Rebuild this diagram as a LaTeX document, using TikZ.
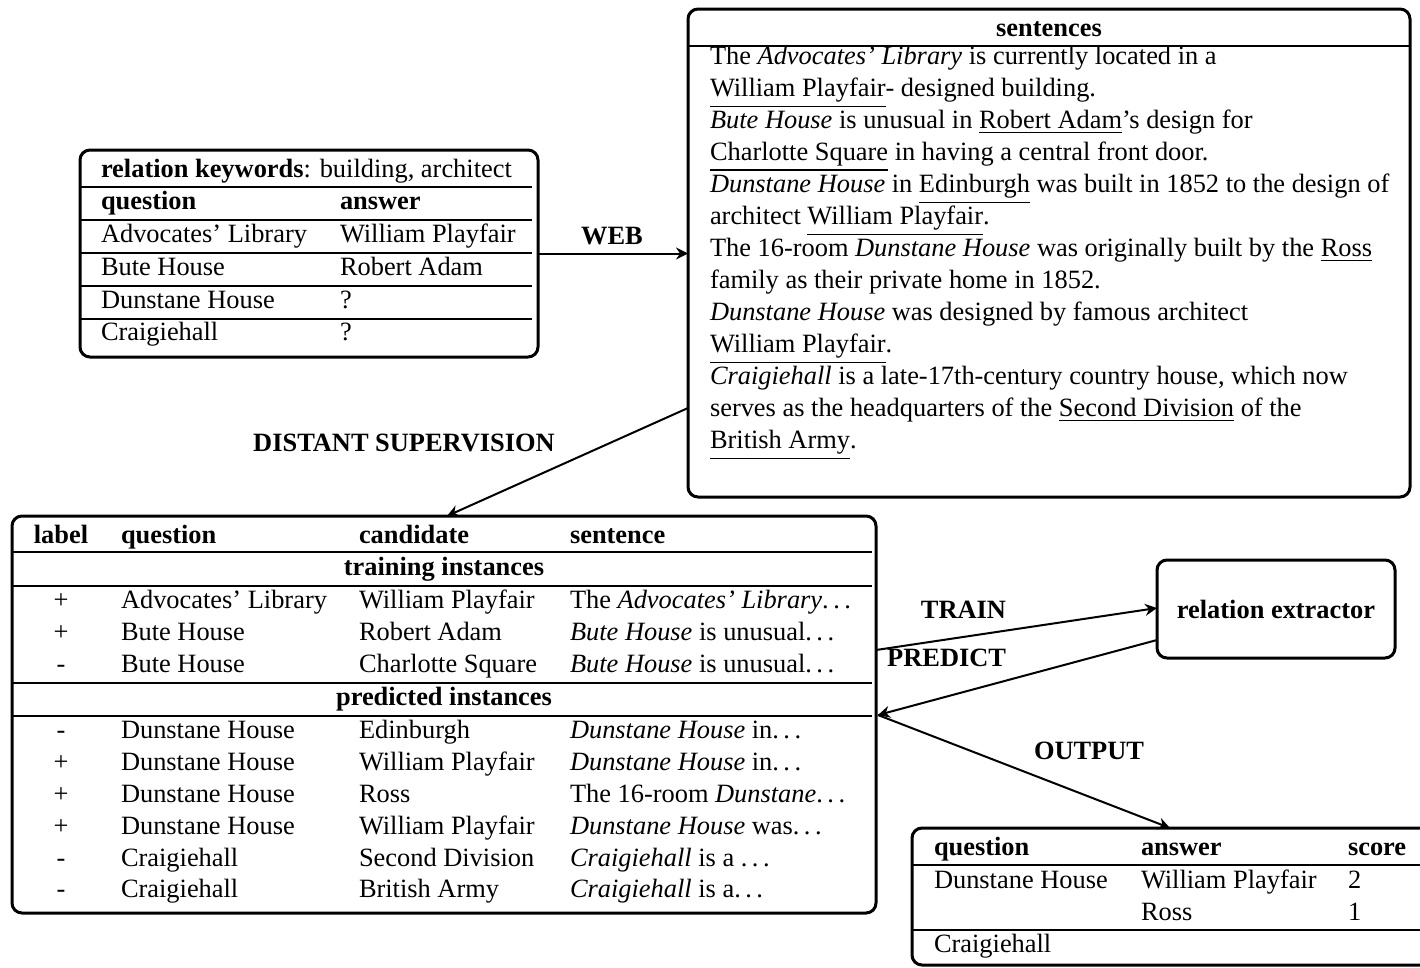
\documentclass[tikz,border=0pt]{standalone}
\usepackage{fontspec}
\setmainfont{Liberation Serif}
\usetikzlibrary{arrows.meta,calc}
\newsavebox\ulbox
\newcommand\myul[1]{\sbox\ulbox{#1}\rlap{\raisebox{\dimexpr-\dp\ulbox-5pt\relax}{\rule{\wd\ulbox}{1.2pt}}}\usebox\ulbox}
\newcommand\mydots{.\kern0.17em.\kern0.17em.}
\begin{document}
\begin{tikzpicture}[x=1pt,y=-1pt,
  every node/.style={inner sep=0pt,outer sep=0pt,font=\fontsize{26.4}{32}\selectfont},
  txt/.style={anchor=base west},
  ctxt/.style={anchor=base},
  hd/.style={anchor=base west,font=\fontsize{26.4}{32}\selectfont\bfseries},
  chd/.style={anchor=base,font=\fontsize{26.4}{32}\selectfont\bfseries},
  lbl/.style={anchor=base,font=\fontsize{26.4}{32}\selectfont\bfseries},
  box/.style={draw,line width=3pt,rounded corners=10pt,anchor=north west},
  rl/.style={line width=1.2pt},
  arr/.style={line width=2pt,-{Stealth[length=12pt,width=12pt,inset=4pt]}}]
\useasboundingbox (0,0) rectangle (1420,967);

% boxes
\node[box,minimum width=458pt,minimum height=207pt] (kw) at (80,150) {};
\node[box,minimum width=722pt,minimum height=488pt] (sent) at (688,9) {};
\node[box,minimum width=864pt,minimum height=397pt] (mid) at (12,516) {};
\node[box,minimum width=238pt,minimum height=98pt] (re) at (1157,560) {};
\node[box,minimum width=540pt,minimum height=137pt] (out) at (912,828) {};

% keyword table
\node[txt] (kwh) at (101,177) {\textbf{relation keywords}: building, architect};
\draw[rl] (80,187) -- (532,187);
\node[hd] (kwq) at (101,209) {question};
\node[hd] (kwa) at (340,209) {answer};
\draw[rl] (80,220) -- (532,220);
\node[txt] (kq1) at (101,242) {Advocates' Library};
\node[txt] (ka1) at (340,242) {William Playfair};
\draw[rl] (80,253) -- (532,253);
\node[txt] (kq2) at (101,275) {Bute House};
\node[txt] (ka2) at (340,275) {Robert Adam};
\draw[rl] (80,286) -- (532,286);
\node[txt] (kq3) at (101,308) {Dunstane House};
\node[txt] (ka3) at (340,308) {?};
\draw[rl] (80,319) -- (532,319);
\node[txt] (kq4) at (101,340) {Craigiehall};
\node[txt] (ka4) at (340,340) {?};

% sentences
\node[chd] (sth) at (1049,36) {sentences};
\draw[rl] (688,46) -- (1410,46);
\node[txt] (s1) at (710,64) {The \textit{Advocates' Library} is currently located in a};
\node[txt] (s2) at (710,96) {\myul{William Playfair}- designed building.};
\node[txt] (s3) at (710,128) {\textit{Bute House} is unusual in \myul{Robert Adam}'s design for};
\node[txt] (s4) at (710,160) {\myul{Charlotte Square} in having a central front door.};
\node[txt] (s5) at (710,192) {\textit{Dunstane House} in \myul{Edinburgh} was built in 1852 to the design of};
\node[txt] (s6) at (710,224) {architect \myul{William Playfair}.};
\node[txt] (s7) at (710,256) {The 16-room \textit{Dunstane House} was originally built by the \myul{Ross}};
\node[txt] (s8) at (710,288) {family as their private home in 1852.};
\node[txt] (s9) at (710,320) {\textit{Dunstane House} was designed by famous architect};
\node[txt] (s10) at (710,352) {\myul{William Playfair}.};
\node[txt] (s11) at (710,384) {\textit{Craigiehall} is a late-17th-century country house, which now};
\node[txt] (s12) at (710,416) {serves as the headquarters of the \myul{Second Division} of the};
\node[txt] (s13) at (710,448) {\myul{British Army}.};

% middle table
\node[chd] (mh1) at (61,543) {label};
\node[hd] (mh2) at (121,543) {question};
\node[hd] (mh3) at (359,543) {candidate};
\node[hd] (mh4) at (570,543) {sentence};
\draw[rl] (12,552) -- (872,552);
\node[chd] (mtr) at (444,575) {training instances};
\draw[rl] (12,586) -- (872,586);
\foreach \yy/\la/\q/\c/\s [count=\i] in {
  608/+/Advocates' Library/William Playfair/The \textit{Advocates' Library}\mydots,
  640/+/Bute House/Robert Adam/\textit{Bute House} is unusual\mydots,
  672/-/Bute House/Charlotte Square/\textit{Bute House} is unusual\mydots}{
  \node[ctxt] (tl\i) at (61,\yy) {\la};
  \node[txt] (tq\i) at (121,\yy) {\q};
  \node[txt] (tc\i) at (359,\yy) {\c};
  \node[txt] (ts\i) at (570,\yy) {\s};
}
\draw[line width=1.6pt] (12,683) -- (872,683);
\node[chd] (mpr) at (444,705) {predicted instances};
\draw[rl] (12,716) -- (872,716);
\foreach \yy/\la/\q/\c/\s [count=\i] in {
  738/-/Dunstane House/Edinburgh/\textit{Dunstane House} in\mydots,
  770/+/Dunstane House/William Playfair/\textit{Dunstane House} in\mydots,
  802/+/Dunstane House/Ross/The 16-room \textit{Dunstane}\mydots,
  834/+/Dunstane House/William Playfair/\textit{Dunstane House} was\mydots,
  866/-/Craigiehall/Second Division/\textit{Craigiehall} is a \mydots,
  897/-/Craigiehall/British Army/\textit{Craigiehall} is a\mydots}{
  \node[ctxt] (pl\i) at (61,\yy) {\la};
  \node[txt] (pq\i) at (121,\yy) {\q};
  \node[txt] (pc\i) at (359,\yy) {\c};
  \node[txt] (ps\i) at (570,\yy) {\s};
}

% relation extractor
\node[font=\fontsize{26.4}{32}\selectfont\bfseries] (ret) at (re.center) {relation extractor};

% output table
\node[hd] (oh1) at (934,855) {question};
\node[hd] (oh2) at (1141,855) {answer};
\node[hd] (oh3) at (1348,855) {score};
\draw[rl] (912,865) -- (1420,865);
\node[txt] (oq1) at (934,888) {Dunstane House};
\node[txt] (oa1) at (1141,888) {William Playfair};
\node[txt] (os1) at (1348,888) {2};
\node[txt] (oa2) at (1141,920) {Ross};
\node[txt] (os2) at (1348,920) {1};
\draw[rl] (912,930) -- (1420,930);
\node[txt] (oq3) at (934,952) {Craigiehall};

% arrows
\draw[arr] (kw.east) -- (kw.east -| sent.west);
\draw[arr] ($(sent.north west)+(0,399)$) -- ($(mid.north west)+(435,0)$);
\draw[arr] ($(mid.north east)+(0,134)$) -- ($(re.north west)+(0,48)$);
\draw[arr] ($(re.north west)+(0,80)$) -- ($(mid.north east)+(2,199)$);
\draw[arr] ($(mid.north east)+(2,199)$) -- ($(out.north west)+(258,0)$);

% arrow labels
\node[lbl] (lweb) at (612,244) {WEB};
\node[lbl] (lds) at (404,451) {DISTANT SUPERVISION};
\node[lbl,anchor=base east] (ltr) at (1006,618) {TRAIN};
\node[lbl,anchor=base east] (lpr) at (1006,666) {PREDICT};
\node[lbl] (lout) at (1089,759) {OUTPUT};
\end{tikzpicture}
\end{document}
